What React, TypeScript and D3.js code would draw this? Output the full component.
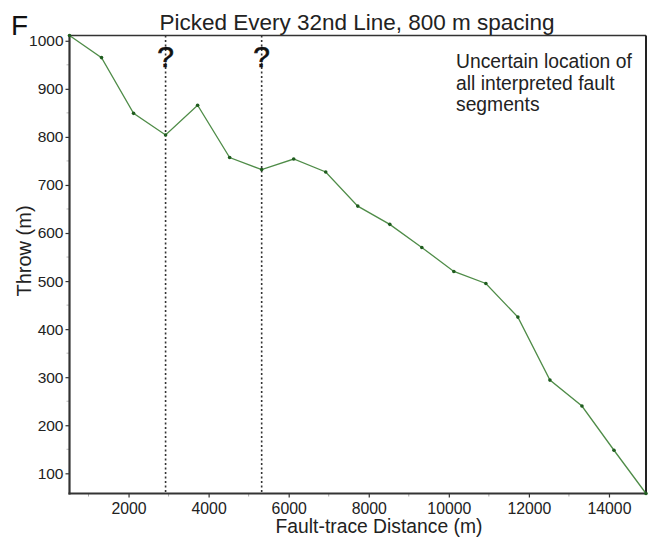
import { useEffect, useRef } from "react";
import * as d3 from "d3";

// distance along fault trace (m), picked every 800 m
const distance = [525, 1325, 2125, 2925, 3725, 4525, 5325, 6125, 6925, 7725, 8525, 9325, 10125, 10925, 11725, 12525, 13325, 14125, 14925];
const throwM = [1011, 965, 849, 804, 866, 757, 732, 754, 727, 656, 618, 570, 520, 495, 425, 294, 240, 148, 58];
const uncertainAt = [2925, 5325];
const xTicks = [2000, 4000, 6000, 8000, 10000, 12000, 14000];
const yTicks = [100, 200, 300, 400, 500, 600, 700, 800, 900, 1000];
const noteLines = ["Uncertain location of", "all interpreted fault", "segments"];

const W = 656;
const H = 539;
const FONT = "'Liberation Sans', Arial, sans-serif";

export default function App() {
    const svgRef = useRef<SVGSVGElement>(null);

    useEffect(() => {
        if (!svgRef.current) return;
        const svg = d3.select(svgRef.current);
        svg.selectAll("*").remove();

        const left = 69.5, right = 646, top = 35.5, bottom = 493.5;

        const x = d3.scaleLinear().domain(d3.extent(distance) as [number, number]).range([left, right]);
        const y = d3.scaleLinear().domain(d3.extent(throwM) as [number, number]).range([bottom, top]);

        svg.append("rect").attr("width", W).attr("height", H).attr("fill", "#fff");

        // minor ticks
        const minorX = d3.range(1000, 15000, 2000);
        svg.append("g").selectAll("line").data(minorX).join("line")
            .attr("x1", d => x(d)).attr("x2", d => x(d))
            .attr("y1", bottom).attr("y2", bottom + 3)
            .attr("stroke", "#aaa").attr("stroke-width", 1);
        const minorY = d3.range(150, 1001, 100);
        svg.append("g").selectAll("line").data(minorY).join("line")
            .attr("x1", left - 3).attr("x2", left)
            .attr("y1", d => y(d)).attr("y2", d => y(d))
            .attr("stroke", "#bbb").attr("stroke-width", 1);

        // x axis
        const gx = svg.append("g")
            .attr("transform", `translate(0,${bottom})`)
            .call(d3.axisBottom(x).tickValues(xTicks).tickSize(4).tickPadding(5).tickFormat(d3.format("d")));
        gx.select(".domain").remove();
        gx.selectAll(".tick line").attr("stroke", "#333").attr("stroke-width", 1.2);
        gx.selectAll(".tick text").attr("font-family", FONT).attr("font-size", 15.8).attr("fill", "#222");

        // y axis
        const gy = svg.append("g")
            .attr("transform", `translate(${left},0)`)
            .call(d3.axisLeft(y).tickValues(yTicks).tickSize(4).tickPadding(2).tickFormat(d3.format("d")));
        gy.select(".domain").remove();
        gy.selectAll(".tick line").attr("stroke", "#333").attr("stroke-width", 1.2);
        gy.selectAll(".tick text").attr("font-family", FONT).attr("font-size", 15.5).attr("fill", "#222");

        // frame
        svg.append("line").attr("x1", left).attr("x2", right).attr("y1", top).attr("y2", top)
            .attr("stroke", "#333").attr("stroke-width", 1.3);
        svg.append("line").attr("x1", right).attr("x2", right).attr("y1", top).attr("y2", bottom)
            .attr("stroke", "#222").attr("stroke-width", 2);
        svg.append("line").attr("x1", left).attr("x2", left).attr("y1", top).attr("y2", bottom + 1)
            .attr("stroke", "#333").attr("stroke-width", 2.2);
        svg.append("line").attr("x1", left - 1).attr("x2", right + 1).attr("y1", bottom).attr("y2", bottom)
            .attr("stroke", "#333").attr("stroke-width", 2.2);

        // uncertain fault segment markers
        uncertainAt.forEach(d => {
            svg.append("line")
                .attr("x1", x(d)).attr("x2", x(d))
                .attr("y1", top).attr("y2", bottom)
                .attr("stroke", "#333").attr("stroke-width", 1.6)
                .attr("stroke-dasharray", "2,2.5");
            svg.append("text")
                .attr("x", x(d)).attr("y", 67)
                .attr("text-anchor", "middle")
                .attr("font-family", FONT).attr("font-size", 30)
                .attr("fill", "#111")
                .attr("stroke", "#111").attr("stroke-width", 0.6)
                .text("?");
        });

        // data line
        const line = d3.line<number>().x((_, i) => x(distance[i])).y(d => y(d));
        svg.append("path")
            .datum(throwM)
            .attr("d", line)
            .attr("fill", "none")
            .attr("stroke", "#4f8c48")
            .attr("stroke-width", 1.3);
        svg.append("g").selectAll("circle").data(throwM).join("circle")
            .attr("cx", (_, i) => x(distance[i]))
            .attr("cy", d => y(d))
            .attr("r", 1.8)
            .attr("fill", "#1f5c1f");

        // note
        svg.append("text")
            .attr("x", 456).attr("y", 68)
            .attr("font-family", FONT).attr("font-size", 19.3).attr("fill", "#222")
            .selectAll("tspan").data(noteLines).join("tspan")
            .attr("x", 456).attr("dy", (_, i) => (i === 0 ? 0 : 21.5))
            .text(d => d);

        // title and panel letter
        svg.append("text")
            .attr("x", 357).attr("y", 30)
            .attr("text-anchor", "middle")
            .attr("font-family", FONT).attr("font-size", 22.5).attr("fill", "#222")
            .text("Picked Every 32nd Line, 800 m spacing");
        svg.append("text")
            .attr("x", 11).attr("y", 35)
            .attr("font-family", FONT).attr("font-size", 28).attr("fill", "#111")
            .text("F");

        // axis titles
        svg.append("text")
            .attr("x", 379).attr("y", 533)
            .attr("text-anchor", "middle")
            .attr("font-family", FONT).attr("font-size", 19.3).attr("fill", "#222")
            .text("Fault-trace Distance (m)");
        svg.append("text")
            .attr("transform", `translate(31,251) rotate(-90)`)
            .attr("text-anchor", "middle")
            .attr("font-family", FONT).attr("font-size", 20).attr("fill", "#222")
            .text("Throw (m)");
    }, []);

    return (
        <svg
            ref={svgRef}
            width={W}
            height={H}
            viewBox={`0 0 ${W} ${H}`}
            style={{ position: "absolute", left: 0, top: 0, display: "block" }}
        />
    );
}
